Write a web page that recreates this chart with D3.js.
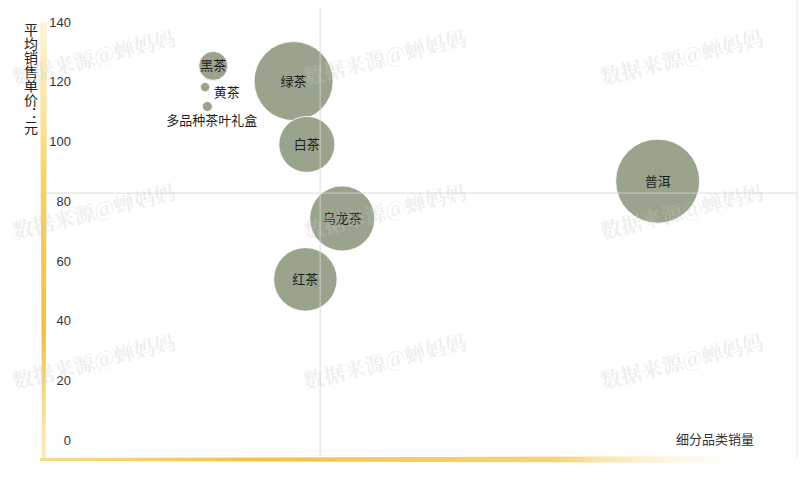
<!DOCTYPE html>
<html><head><meta charset="utf-8">
<script src="https://cdn.jsdelivr.net/npm/d3@7"></script>
<style>html,body{margin:0;padding:0;background:#fff;}svg{display:block;}</style>
</head><body>
<svg id="c" width="800" height="480"></svg>
<script>
// ---- data ----
const categories = ["黑茶","黄茶","多品种茶叶礼盒","绿茶","白茶","普洱","乌龙茶","红茶"];
const salesVolume = [23.1, 22.0, 22.3, 34.0, 35.8, 83.4, 40.6, 35.6];   // 细分品类销量 (relative)
const avgPrice    = [125.3, 118.2, 111.7, 120.2, 99.0, 86.7, 74.2, 53.8]; // 平均销售单价：元
const bubbleSize  = [11.9, 1.25, 1.4, 88.5, 44.4, 100, 60, 57];        // bubble size (relative)
const yTicks = [0, 20, 40, 60, 80, 100, 120, 140];
const refVolume = 37.6;   // vertical reference line
const refPrice = 82.7;    // horizontal reference line
const xTitle = "细分品类销量";
const yTitle = "平均销售单价：元";
const watermark = "数据来源@蝉妈妈";

const svg = d3.select("#c");
const font = "'Noto Sans CJK SC','Noto Sans',sans-serif";
const x = d3.scaleLinear().domain([0, 100]).range([43, 780]);
const y = d3.scaleLinear().domain([0, 140]).range([440, 22]);
const r = d3.scaleSqrt().domain([0, 100]).range([0, 42]);

const defs = svg.append("defs");
const gv = defs.append("linearGradient").attr("id","gv").attr("x1",0).attr("y1",0).attr("x2",0).attr("y2",1);
gv.append("stop").attr("offset","0%").attr("stop-color","#fbe9b0").attr("stop-opacity",0.5);
gv.append("stop").attr("offset","35%").attr("stop-color","#f6d46a");
gv.append("stop").attr("offset","70%").attr("stop-color","#f1c040");
gv.append("stop").attr("offset","100%").attr("stop-color","#f6dc90").attr("stop-opacity",0.6);
const gh = defs.append("linearGradient").attr("id","gh").attr("x1",0).attr("y1",0).attr("x2",1).attr("y2",0);
gh.append("stop").attr("offset","0%").attr("stop-color","#f6dc90");
gh.append("stop").attr("offset","30%").attr("stop-color","#f2c444");
gh.append("stop").attr("offset","70%").attr("stop-color","#f5d57a");
gh.append("stop").attr("offset","100%").attr("stop-color","#fff").attr("stop-opacity",0);

// axis bars
svg.append("path").attr("d","M40,22 L47,22 L45.5,460 L42,460 Z").attr("fill","url(#gv)");
svg.append("path").attr("d","M40,458 L775,456 L775,463 L40,461 Z").attr("fill","url(#gh)");
// right frame line
svg.append("line").attr("x1",797).attr("x2",797).attr("y1",0).attr("y2",458).attr("stroke","#e4e4e4");

// y axis labels
const yAxis = d3.axisLeft(y).tickValues(yTicks).tickSize(0).tickPadding(0);
const ga = svg.append("g").attr("transform","translate(71,0)").call(yAxis);
ga.select(".domain").remove();
ga.selectAll("text").attr("font-family","'Liberation Sans',Arial,sans-serif").attr("font-size",13).attr("fill","#333");

// bubbles
const data = categories.map((c,i)=>({name:c, sx:salesVolume[i], py:avgPrice[i], s:bubbleSize[i]}));
svg.append("g").selectAll("circle").data(data).join("circle")
  .attr("cx",d=>x(d.sx)).attr("cy",d=>y(d.py)).attr("r",d=>r(d.s))
  .attr("fill","#9aa48d").attr("stroke","#fff").attr("stroke-width",0.8);

// reference lines (on top)
svg.append("line").attr("x1",x(refVolume)).attr("x2",x(refVolume)).attr("y1",7).attr("y2",458)
  .attr("stroke","#d6d6d6").attr("stroke-opacity",0.85);
svg.append("line").attr("x1",45).attr("x2",797).attr("y1",y(refPrice)).attr("y2",y(refPrice))
  .attr("stroke","#d6d6d6").attr("stroke-opacity",0.85);

// labels
svg.append("g").selectAll("text").data(data).join("text")
  .attr("x",d=>{const rr=r(d.s); return rr<8 ? (d.name.length>2 ? x(d.sx)+4.5 : x(d.sx)+rr+4) : x(d.sx);})
  .attr("y",d=>{const rr=r(d.s); return rr<8 ? (d.name.length>2 ? y(d.py)+19 : y(d.py)+10) : y(d.py)+4.5;})
  .attr("text-anchor",d=>{const rr=r(d.s); return rr<8 && d.name.length<=2 ? "start":"middle";})
  .attr("font-family",font).attr("font-size",13).attr("fill","#1e1e1e")
  .text(d=>d.name);

// axis titles
svg.append("text").attr("x",754).attr("y",444).attr("text-anchor","end")
  .attr("font-family",font).attr("font-size",13).attr("fill","#333").text(xTitle);
svg.append("text").attr("x",31).attr("y",23)
  .style("writing-mode","vertical-rl")
  .attr("font-family",font).attr("font-size",14).attr("fill","#222").text(yTitle);

// watermarks
const wm = svg.append("g").attr("pointer-events","none");
[94,385,682].forEach(cx=>[58,212,362].forEach(cy=>{
  wm.append("text").attr("transform",`translate(${cx},${cy}) rotate(-14)`)
    .attr("text-anchor","middle").attr("dy","0.35em")
    .attr("font-family","'Noto Serif CJK SC','Noto Sans CJK SC',serif").attr("font-weight","bold")
    .attr("font-size",21).attr("fill","#c9c9c9").attr("fill-opacity",0.3).text(watermark);
}));
</script>
</body></html>
